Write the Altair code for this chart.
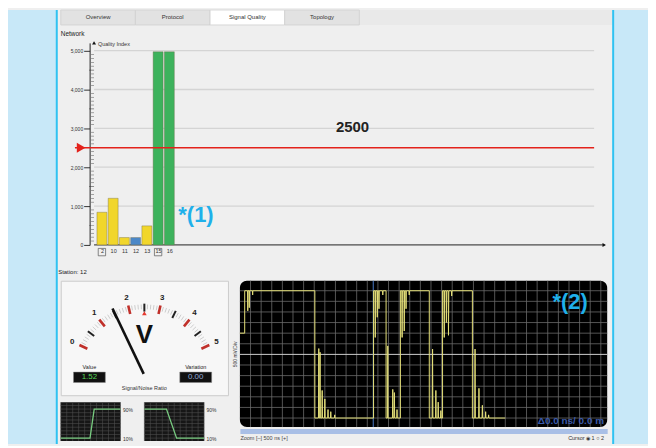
import altair as alt
import pandas as pd

# ---------------- data ----------------
tabs = ["Overview", "Protocol", "Signal Quality", "Topology"]
selected_tab = "Signal Quality"

stations = ["2", "10", "11", "12", "13", "15", "16"]
quality_index = [840, 1200, 190, 190, 490, 4970, 4970]
bar_colors = ["#f1d62b", "#f1d62b", "#f1d62b", "#4b88c8", "#f1d62b", "#3db25c", "#3db25c"]
boxed_stations = ["2", "15"]
threshold = 2500
quality_ticks = [0, 1000, 2000, 3000, 4000, 5000]

gauge_numbers = [0, 1, 2, 3, 4, 5]
gauge_halves = [0.5, 1.5, 2.5, 3.5, 4.5]
gauge_value = 1.52
gauge_variation = 0.00
gauge_alarm = 2.5

# oscilloscope trace: time (divisions) and level (divisions)
wave_t = [0.00, 0.45, 0.45, 0.72, 0.74, 0.76, 0.86, 0.88, 0.90, 1.18, 1.20, 1.22,
          7.06, 7.06, 7.40, 7.43, 7.46, 7.52, 7.55, 7.58, 7.72, 7.75, 7.78, 7.97, 8.00, 8.03,
          8.27, 8.30, 8.33, 8.53, 8.56, 8.59, 8.90, 8.93, 8.96,
          12.59, 12.59, 12.72, 12.75, 12.78, 12.91, 12.94, 12.97, 13.07, 13.10, 13.13, 13.43, 13.46, 13.49,
          13.77, 13.77, 13.90, 13.93, 13.96, 14.37, 14.40, 14.43, 14.52, 14.55, 14.58, 14.77, 14.80, 14.83,
          15.12, 15.12, 15.25, 15.28, 15.31, 15.45, 15.48, 15.51, 15.62, 15.65, 15.68, 15.92, 15.95, 15.98,
          17.84, 17.84, 18.12, 18.15, 18.18, 18.43, 18.46, 18.49, 18.65, 18.68, 18.71, 18.90, 18.93, 18.96,
          19.09, 19.09, 19.22, 19.25, 19.28, 19.42, 19.45, 19.48, 19.62, 19.65, 19.68, 19.92, 19.95, 19.98,
          21.90, 21.90, 22.12, 22.15, 22.18, 22.49, 22.52, 22.55, 22.81, 22.84, 22.87, 23.12, 23.15, 23.18,
          23.40, 23.43, 23.46, 25.00]
wave_v = [2.0, 2.0, 6.0, 6.0, 4.1, 6.0, 6.0, 4.4, 6.0, 6.0, 5.6, 6.0,
          6.0, -6.0, -6.0, 0.55, -6.0, -6.0, 0.2, -6.0, -6.0, -3.4, -6.0, -6.0, -4.2, -6.0,
          -6.0, -5.2, -6.0, -6.0, -5.4, -6.0, -6.0, -5.7, -6.0,
          -6.0, 6.0, 6.0, 1.6, 6.0, 6.0, 3.5, 6.0, 6.0, 4.3, 6.0, 6.0, 5.6, 6.0,
          6.0, -6.0, -6.0, 0.8, -6.0, -6.0, -3.3, -6.0, -6.0, -3.6, -6.0, -6.0, -5.2, -6.0,
          -6.0, 6.0, 6.0, 1.6, 6.0, 6.0, 2.2, 6.0, 6.0, 4.3, 6.0, 6.0, 5.6, 6.0,
          6.0, -6.0, -6.0, 0.5, -6.0, -6.0, -3.4, -6.0, -6.0, -4.5, -6.0, -6.0, -5.3, -6.0,
          -6.0, 6.0, 6.0, 1.6, 6.0, 6.0, 3.0, 6.0, 6.0, 1.8, 6.0, 6.0, 5.5, 6.0,
          6.0, -6.0, -6.0, 0.5, -6.0, -6.0, -3.2, -6.0, -6.0, -4.8, -6.0, -6.0, -5.4, -6.0,
          -6.0, -5.7, -6.0, -6.0]
cursor_t = 12.56
scope_delta = "Δ0.0 ns/ 0.0 m"

rise_x = [0, 4.9, 5.6, 10]
rise_y = [10, 10, 90, 90]
fall_x = [0, 3.7, 5.4, 10]
fall_y = [90, 90, 10, 10]

# ---------------- style ----------------
FONT = "Liberation Sans"
PANEL = "#efefef"
BLUE_BG = "#c8e8f8"
CYAN = "#2fc2f2"
CALLOUT = "#1fb0ea"

# ---------------- tabs ----------------
tabs_df = pd.DataFrame({"tab": tabs,
                        "fill": ["#ffffff" if t == selected_tab else "#e2e2e2" for t in tabs]})
TX = alt.Scale(domain=tabs, range=[0, 300], paddingInner=0, paddingOuter=0)
tab_rect = alt.Chart(tabs_df).mark_rect(stroke="#d0d0d0", strokeWidth=0.8).encode(
    x=alt.X("tab:N", scale=TX, axis=None), fill=alt.Fill("fill:N", scale=None))
tab_text = alt.Chart(tabs_df).mark_text(fontSize=6, color="#333333", font=FONT).encode(
    x=alt.X("tab:N", scale=TX, axis=None), text="tab:N")
tabs_chart = alt.layer(tab_rect, tab_text).properties(
    width=554, height=15, view=alt.ViewBackground(fill="#e9e9e9", strokeWidth=0))

# ---------------- bar chart ----------------
bars_df = pd.DataFrame({"station": stations, "q": quality_index, "color": bar_colors,
                        "pos": list(range(len(stations)))})
X0, X1 = -0.7, 44.7          # y-axis position and x-axis end (bar slots)
XS = alt.Scale(domain=[-3.22, 44.52], nice=False, zero=False)
YS = alt.Scale(domain=[0, 5200], nice=False, zero=False)
label_expr = "[" + ",".join("'%s'" % s for s in stations) + "][datum.value]"
X_AX = alt.Axis(values=list(range(len(stations))), labelExpr=label_expr, title=" ",
                titleFontSize=10, titlePadding=0, labelFontSize=5.5, labelColor="#333333",
                labelPadding=4, ticks=False, domain=False, grid=False)
Y_AX = alt.Axis(values=quality_ticks, labelExpr="format(datum.value, ',')", title="",
                labelFontSize=5, labelColor="#333333", labelPadding=1, offset=-29,
                tickSize=6, tickColor="#333333", domainColor="#222222", grid=False)


def bx(field):
    return alt.X(field, scale=XS, axis=X_AX)


def by(field):
    return alt.Y(field, scale=YS, axis=Y_AX)


grid_df = pd.DataFrame({"x": X0, "x2": 43.8, "y": quality_ticks[1:]})
grid = alt.Chart(grid_df).mark_rule(color="#d4d4d4", strokeWidth=1.3).encode(
    x=bx("x:Q"), x2="x2:Q", y=by("y:Q"))
xline = alt.Chart(pd.DataFrame({"x": [X0], "x2": [X1], "y": [0]})).mark_rule(
    color="#222222", strokeWidth=1).encode(x=bx("x:Q"), x2="x2:Q", y=by("y:Q"))

bars = alt.Chart(bars_df).mark_bar(size=10, stroke="#6f6a4a", strokeWidth=0.4).encode(
    x=bx("pos:Q"), y=by("q:Q"), color=alt.Color("color:N", scale=None))

minor_df = pd.DataFrame({"x": X0, "y": [v for v in range(100, 5100, 100) if v % 500]})
mid_df = pd.DataFrame({"x": X0, "y": [500, 1500, 2500, 3500, 4500]})
minor_ticks = alt.Chart(minor_df).mark_tick(orient="horizontal", size=3, thickness=0.6,
                                            color="#333333", xOffset=-1.5).encode(
    x=bx("x:Q"), y=by("y:Q"))
mid_ticks = alt.Chart(mid_df).mark_tick(orient="horizontal", size=5, thickness=0.7,
                                        color="#333333", xOffset=-2.5).encode(
    x=bx("x:Q"), y=by("y:Q"))

arrows_df = pd.DataFrame({"x": [X0, X1], "y": [5200, 0], "shape": ["triangle-up", "triangle-right"]})
arrows = alt.Chart(arrows_df).mark_point(filled=True, color="#111111", size=16, opacity=1).encode(
    x=bx("x:Q"), y=by("y:Q"), shape=alt.Shape("shape:N", scale=None))

yname = alt.Chart(pd.DataFrame({"x": [-0.35], "y": [5160], "t": ["Quality Index"]})).mark_text(
    align="left", baseline="middle", fontSize=5.5, color="#333333", font=FONT).encode(
    x=bx("x:Q"), y=by("y:Q"), text="t:N")

boxes = alt.Chart(bars_df[bars_df["station"].isin(boxed_stations)]).transform_calculate(
    yb="-185").mark_point(shape="square", size=55, filled=False, stroke="#555555",
                          strokeWidth=0.7, opacity=1).encode(
    x=bx("pos:Q"), y=by("yb:Q"))

thr_df = pd.DataFrame({"x": [-2.4], "x2": [43.8], "y": [threshold]})
thr_rule = alt.Chart(thr_df).mark_rule(color="#e3221b", strokeWidth=1.5).encode(
    x=bx("x:Q"), x2="x2:Q", y=by("y:Q"))
thr_mark = alt.Chart(pd.DataFrame({"x": [-1.85], "y": [threshold]})).mark_point(
    shape="triangle-right", filled=True, color="#e3221b", size=100, opacity=1).encode(
    x=bx("x:Q"), y=by("y:Q"))
thr_text = alt.Chart(pd.DataFrame({"x": [22.3], "y": [3030], "t": [str(threshold)]})).mark_text(
    fontSize=15, fontWeight="bold", color="#222222", font=FONT).encode(
    x=bx("x:Q"), y=by("y:Q"), text="t:N")
call1 = alt.Chart(pd.DataFrame({"x": [6.8], "y": [770], "t": ["*(1)"]})).mark_text(
    align="left", baseline="middle", fontSize=22, fontWeight="bold", color=CALLOUT, font=FONT).encode(
    x=bx("x:Q"), y=by("y:Q"), text="t:N")

bar_chart = alt.layer(grid, xline, bars, minor_ticks, mid_ticks, arrows, yname, boxes, thr_rule,
                      thr_mark, thr_text, call1).properties(
    width=549, height=203,
    title=alt.TitleParams("Network", anchor="start", fontSize=6.5, fontWeight="normal",
                          color="#222222", offset=4, font=FONT),
    view=alt.ViewBackground(fill=None, strokeWidth=0))

# ---------------- gauge ----------------
GX = alt.Scale(domain=[-1.05, 1.05], nice=False, zero=False)
GY = alt.Scale(domain=[-0.25, 1.1875], nice=False, zero=False)
ANG = "(datum.v / 5 * 130 - 65) * PI / 180"


def gauge_rules(vals, r1, r2, color, width):
    return alt.Chart(pd.DataFrame({"v": vals})).transform_calculate(a=ANG).transform_calculate(
        x1="%f*sin(datum.a)" % r1, y1="%f*cos(datum.a)" % r1,
        x2="%f*sin(datum.a)" % r2, y2="%f*cos(datum.a)" % r2).mark_rule(
        color=color, strokeWidth=width).encode(
        x=alt.X("x1:Q", scale=GX, axis=None), y=alt.Y("y1:Q", scale=GY, axis=None),
        x2="x2:Q", y2="y2:Q")


g_minor = gauge_rules([i / 10 for i in range(51)], 0.83, 0.89, "#cdcdcd", 1)
g_half = gauge_rules(gauge_halves, 0.80, 0.90, "#222222", 2)
g_major = gauge_rules(gauge_numbers, 0.79, 0.90, "#c0302a", 2.6)
g_needle = gauge_rules([gauge_value], 0.02, 0.93, "#111111", 2.6)

g_labels = alt.Chart(pd.DataFrame({"v": gauge_numbers})).transform_calculate(a=ANG).transform_calculate(
    x="1.0*sin(datum.a)", y="1.0*cos(datum.a)", t="datum.v + ''").mark_text(
    fontSize=8, fontWeight="bold", color="#222222", font=FONT).encode(
    x=alt.X("x:Q", scale=GX, axis=None), y=alt.Y("y:Q", scale=GY, axis=None), text="t:N")
g_alarm = alt.Chart(pd.DataFrame({"v": [gauge_alarm]})).transform_calculate(a=ANG).transform_calculate(
    x="0.78*sin(datum.a)", y="0.78*cos(datum.a)").mark_point(
    shape="triangle-up", filled=True, color="#e53a30", size=22, opacity=1).encode(
    x=alt.X("x:Q", scale=GX, axis=None), y=alt.Y("y:Q", scale=GY, axis=None))
g_unit = alt.Chart(pd.DataFrame({"x": [0.0], "y": [0.5], "t": ["V"]})).mark_text(
    fontSize=26, fontWeight="bold", color="#111111", font=FONT).encode(
    x=alt.X("x:Q", scale=GX, axis=None), y=alt.Y("y:Q", scale=GY, axis=None), text="t:N")

readouts = pd.DataFrame({"label": ["Value", "Variation"], "val": [gauge_value, gauge_variation],
                         "cx": [-0.69, 0.645], "color": ["#56d656", "#93a8d8"]})
r_box = alt.Chart(readouts).transform_calculate(
    xa="datum.cx - 0.2", xb="datum.cx + 0.2", ya="-0.09", yb="0.04").mark_rect(
    color="#111111", stroke="#888888", strokeWidth=0.5).encode(
    x=alt.X("xa:Q", scale=GX, axis=None), x2="xb:Q",
    y=alt.Y("ya:Q", scale=GY, axis=None), y2="yb:Q")
r_val = alt.Chart(readouts).transform_calculate(
    yv="-0.025", txt="format(datum.val, '.2f')").mark_text(fontSize=8, font=FONT).encode(
    x=alt.X("cx:Q", scale=GX, axis=None), y=alt.Y("yv:Q", scale=GY, axis=None),
    text="txt:N", color=alt.Color("color:N", scale=None))
r_lab = alt.Chart(readouts).transform_calculate(yl="0.105").mark_text(
    fontSize=5.5, color="#222222", font=FONT).encode(
    x=alt.X("cx:Q", scale=GX, axis=None), y=alt.Y("yl:Q", scale=GY, axis=None), text="label:N")
g_name = alt.Chart(pd.DataFrame({"x": [0.0], "y": [-0.165], "t": ["Signal/Noise Ratio"]})).mark_text(
    fontSize=5.5, color="#333333", font=FONT).encode(
    x=alt.X("x:Q", scale=GX, axis=None), y=alt.Y("y:Q", scale=GY, axis=None), text="t:N")

gauge = alt.layer(g_minor, g_half, g_major, g_labels, g_alarm, g_unit, g_needle, r_box, r_val,
                  r_lab, g_name).properties(
    width=168, height=115,
    view=alt.ViewBackground(fill="#f7f7f7", stroke="#cccccc", strokeWidth=1))


# ---------------- small step scopes ----------------
def small_scope(xs, ys):
    sx = alt.Scale(domain=[0, 10], nice=False, zero=False)
    sy = alt.Scale(domain=[2, 109], nice=False, zero=False)
    y_ax = alt.Axis(orient="right", values=[10, 90], labelExpr="datum.value + '%'",
                    labelFontSize=5, labelColor="#333333", ticks=False, domain=False,
                    grid=False, title="", labelPadding=2)
    vg = alt.Chart(pd.DataFrame({"g": list(range(11))})).mark_rule(
        color="#4d4d4d", strokeWidth=0.6).encode(x=alt.X("g:Q", scale=sx, axis=None))
    hg = alt.Chart(pd.DataFrame({"g": list(range(10, 110, 10))})).mark_rule(
        color="#4d4d4d", strokeWidth=0.6).encode(y=alt.Y("g:Q", scale=sy, axis=y_ax))
    df = pd.DataFrame({"x": xs, "y": ys, "i": list(range(len(xs)))})
    ln = alt.Chart(df).mark_line(color="#78cc80", strokeWidth=1.3).encode(
        x=alt.X("x:Q", scale=sx, axis=None), y=alt.Y("y:Q", scale=sy, axis=y_ax), order="i:Q")
    return alt.layer(vg, hg, ln).properties(
        width=60, height=39, view=alt.ViewBackground(fill="#161616", strokeWidth=0))


smalls = alt.hconcat(small_scope(rise_x, rise_y), small_scope(fall_x, fall_y), spacing=8)
left_col = alt.vconcat(gauge, smalls, spacing=5)

# ---------------- oscilloscope ----------------
SX = alt.Scale(domain=[0, 34.6], nice=False, zero=False)
SY = alt.Scale(domain=[-6.85, 6.94], nice=False, zero=False)
SX_AX = alt.Axis(labels=False, ticks=False, grid=False, domainColor="#a9bfe6",
                 domainWidth=5, offset=4, title="Zoom   [–]   500 ns   [+]",
                 titleFontSize=5.5, titleFontWeight="normal", titleColor="#444444",
                 titleAnchor="start", titlePadding=5)
SY_AX = alt.Axis(labels=False, ticks=False, domain=False, grid=False,
                 title="500 mV/Div", titleFontSize=5, titleFontWeight="normal",
                 titleColor="#333333", titlePadding=2)


def sx(field):
    return alt.X(field, scale=SX, axis=SX_AX)


def sy(field):
    return alt.Y(field, scale=SY, axis=SY_AX)


wave_df = pd.DataFrame({"t": wave_t, "v": wave_v, "i": list(range(len(wave_t)))})

s_vgrid = alt.Chart(pd.DataFrame({"g": list(range(1, 35))})).mark_rule(
    color="#6a6a6a", strokeWidth=0.8).encode(x=sx("g:Q"))
s_hgrid = alt.Chart(pd.DataFrame({"g": [-6, -5, -4, -3, -2, -1, 1, 2, 3, 4, 5, 6]})).mark_rule(
    color="#6a6a6a", strokeWidth=0.8).encode(y=sy("g:Q"))
s_center = alt.Chart(pd.DataFrame({"g": [0]})).mark_rule(color="#d0d0d0", strokeWidth=1).encode(
    y=sy("g:Q"))
s_cursor = alt.Chart(pd.DataFrame({"g": [cursor_t]})).mark_rule(color="#4a7ac8", strokeWidth=1).encode(
    x=sx("g:Q"))
s_wave = alt.Chart(wave_df).mark_line(color="#e4df78", strokeWidth=1).encode(
    x=sx("t:Q"), y=sy("v:Q"), order="i:Q")
s_call = alt.Chart(pd.DataFrame({"x": [31.1], "y": [4.9], "t": ["*(2)"]})).mark_text(
    fontSize=22, fontWeight="bold", color=CALLOUT, font=FONT).encode(
    x=sx("x:Q"), y=sy("y:Q"), text="t:N")
s_delta = alt.Chart(pd.DataFrame({"x": [34.3], "y": [-6.25], "t": [scope_delta]})).mark_text(
    align="right", fontSize=10, fontWeight="bold", color="#3a5aab", font=FONT).encode(
    x=sx("x:Q"), y=sy("y:Q"), text="t:N")
s_cur = alt.Chart(pd.DataFrame({"x": [34.3], "y": [-7.9], "t": ["Cursor    ◉ 1   ○ 2"]})).mark_text(
    align="right", fontSize=5.5, color="#333333", font=FONT).encode(
    x=sx("x:Q"), y=sy("y:Q"), text="t:N")

scope = alt.layer(s_vgrid, s_hgrid, s_center, s_cursor, s_wave, s_call, s_delta, s_cur).properties(
    width=369, height=147,
    view=alt.ViewBackground(fill="#000000", cornerRadius=7, strokeWidth=0))

bottom = alt.hconcat(left_col, scope, spacing=4,
                     title=alt.TitleParams("Station: 12", anchor="start", fontSize=6,
                                           fontWeight="normal", color="#222222", offset=5,
                                           font=FONT))

main = alt.vconcat(tabs_chart, bar_chart, bottom, spacing=4)


# ---------------- side bands ----------------
def band(edge, w):
    return alt.Chart(pd.DataFrame({"e": [edge]})).mark_rule(color=CYAN, strokeWidth=2).encode(
        x=alt.X("e:Q", scale=alt.Scale(domain=[0, 1]), axis=None)).properties(
        width=w, height=436, view=alt.ViewBackground(fill=BLUE_BG, strokeWidth=0))


chart = alt.hconcat(band(1, 49), main, band(0, 35), spacing=0).properties(
    padding={"left": 0, "top": 0, "right": 0, "bottom": 0}
).configure(background=PANEL, font=FONT).configure_view(strokeWidth=0)

chart.save("out.html", embed_options={"renderer": "svg", "actions": False})
